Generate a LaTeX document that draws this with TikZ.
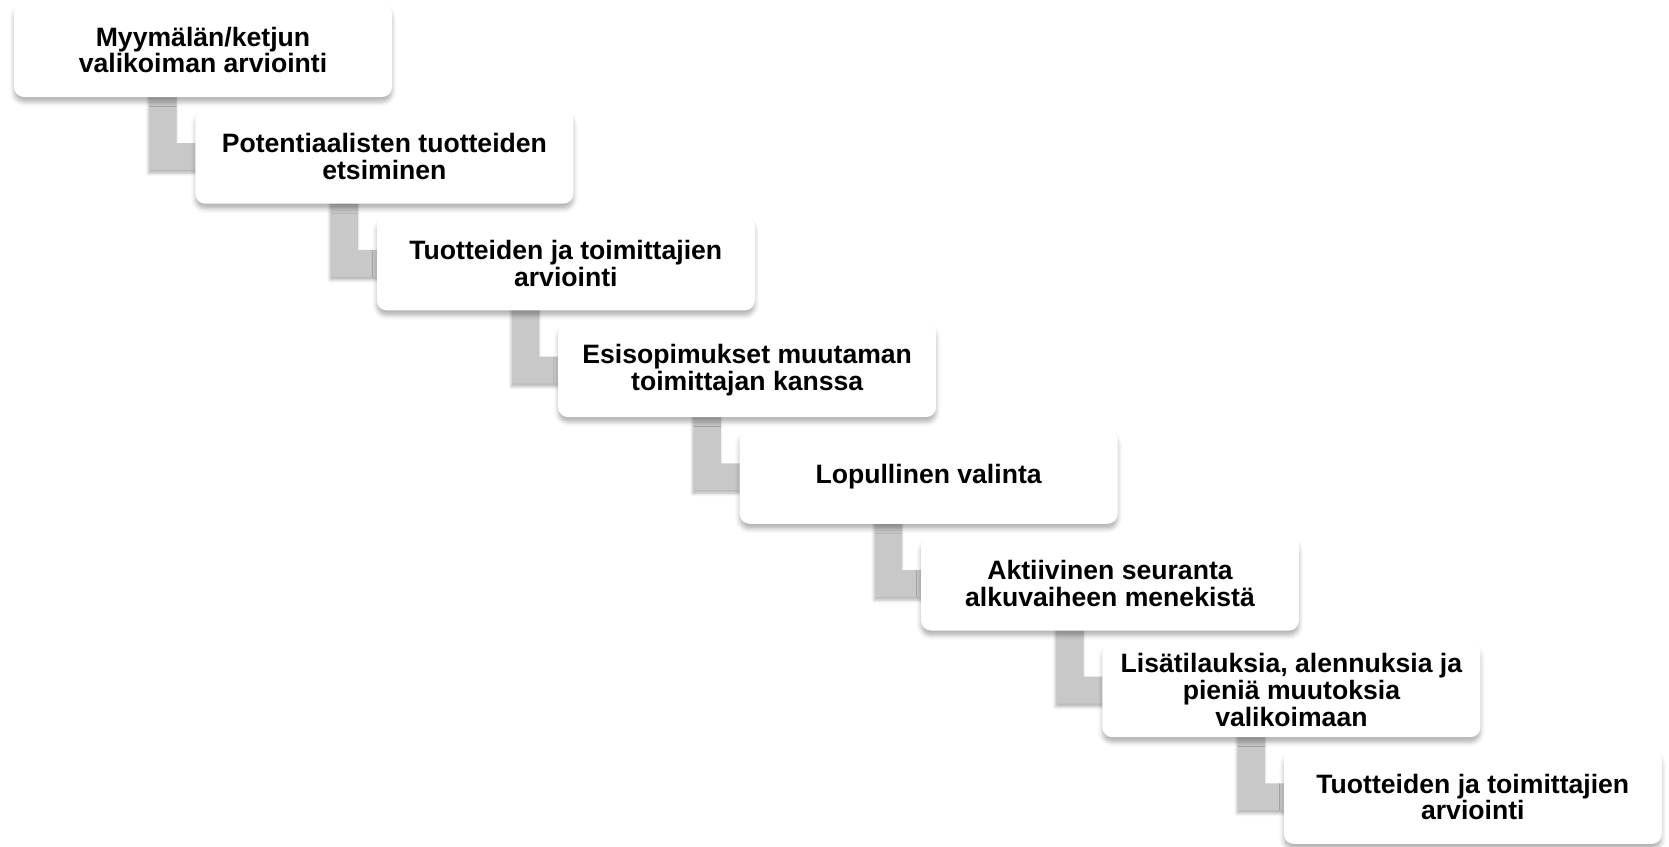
\documentclass[tikz,border=0pt]{standalone}
\usepackage{fontspec}
\setmainfont{Liberation Sans}
\usetikzlibrary{calc,shadows.blur}
\pgfdeclarelayer{background}
\pgfsetlayers{background,main}
\definecolor{conncol}{RGB}{200,200,200}
\tikzset{
  stepbox/.style={rectangle, rounded corners=5pt, fill=white, draw=none,
    minimum width=189pt, minimum height=47pt, inner sep=0pt, align=center,
    font=\bfseries\fontsize{13.3pt}{13.4pt}\selectfont,
    blur shadow={shadow xshift=0pt, shadow yshift=-2.5pt, shadow blur radius=2.2pt, shadow opacity=30}},
  connshape/.style={fill=conncol,
    blur shadow={shadow xshift=-0.5pt, shadow yshift=-1.5pt, shadow blur radius=1.5pt, shadow opacity=30}}
}
\newcommand\linkab[2]{%
  \path[connshape] let \p1=(#1.south west), \p2=(#2.west) in
    (\x1+68pt,\y1+6pt) -- (\x1+68pt,\y2-6.75pt) -- (\x2+6pt,\y2-6.75pt) --
    (\x2+6pt,\y2+6.75pt) -- (\x1+81.5pt,\y2+6.75pt) -- (\x1+81.5pt,\y1+6pt) -- cycle;}
\begin{document}
\begin{tikzpicture}[x=0.5pt,y=0.5pt]
\begin{pgfonlayer}{background}
\fill[white] (0,0) rectangle (1669,-846);
\end{pgfonlayer}
\useasboundingbox (0,0) rectangle (1669,-846);
% tiny warm-up shadow, hidden under the first box
\fill[white, blur shadow={shadow xshift=0pt, shadow yshift=0pt, shadow blur radius=0.5pt, shadow opacity=0}] (200,-50) rectangle (202,-52);
\node[stepbox] (b1) at (203.0,-50.0)   {Myymälän/ketjun\\valikoiman arviointi};
\node[stepbox] (b2) at (384.4,-156.7)  {Potentiaalisten tuotteiden\\etsiminen};
\node[stepbox] (b3) at (565.8,-263.4)  {Tuotteiden ja toimittajien\\arviointi};
\node[stepbox] (b4) at (747.2,-370.1)  {Esisopimukset muutaman\\toimittajan kanssa};
\node[stepbox] (b5) at (928.6,-476.8)  {Lopullinen valinta};
\node[stepbox] (b6) at (1110.0,-583.5) {Aktiivinen seuranta\\alkuvaiheen menekistä};
\node[stepbox] (b7) at (1291.4,-690.2) {Lisätilauksia, alennuksia ja\\pieniä muutoksia\\valikoimaan};
\node[stepbox] (b8) at (1472.8,-796.9) {Tuotteiden ja toimittajien\\arviointi};
\begin{pgfonlayer}{background}
\linkab{b1}{b2}
\linkab{b2}{b3}
\linkab{b3}{b4}
\linkab{b4}{b5}
\linkab{b5}{b6}
\linkab{b6}{b7}
\linkab{b7}{b8}
\end{pgfonlayer}
\end{tikzpicture}
\end{document}
